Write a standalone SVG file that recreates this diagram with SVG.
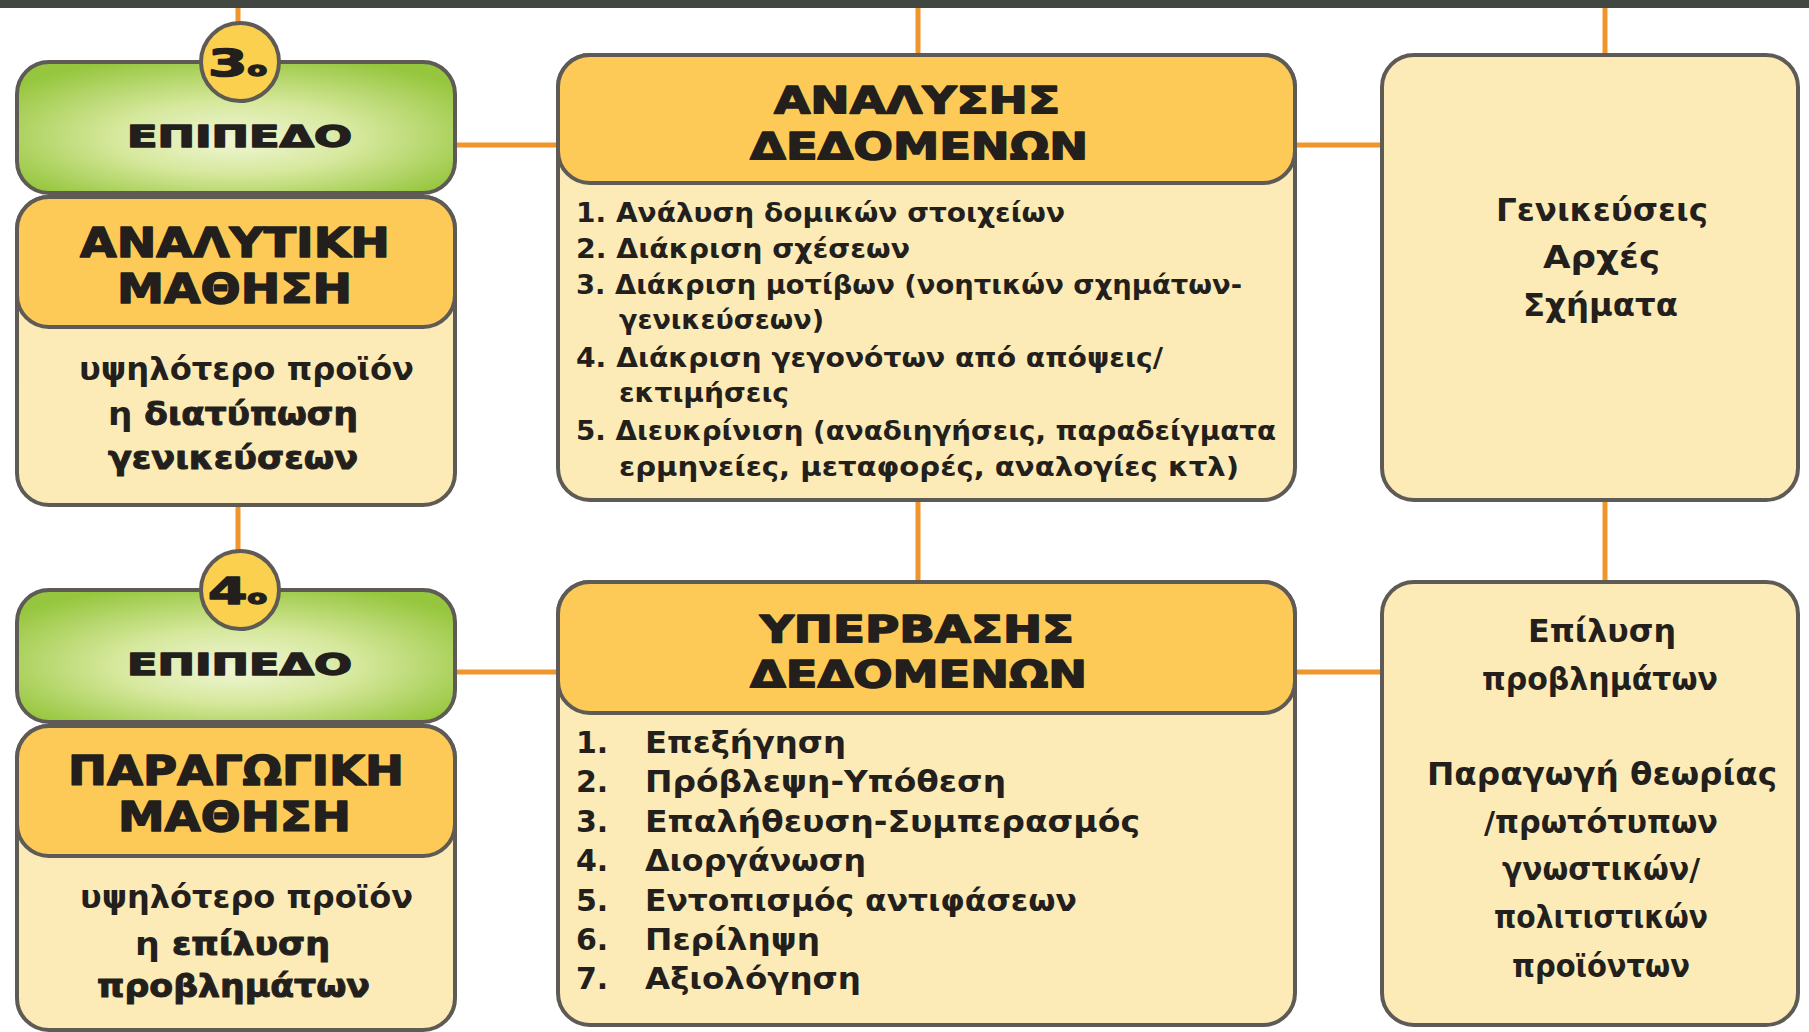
<svg xmlns="http://www.w3.org/2000/svg" width="1809" height="1032" viewBox="0 0 1809 1032">
<style>
.box{stroke:#5e5b56;stroke-width:4}
.light{fill:#fcebb7}
.hdr{fill:#fdca57}
.grn{fill:url(#g)}
.con{stroke:#f0952b;stroke-width:5;fill:none}
text{font-family:"DejaVu Sans","Noto Sans",sans-serif;fill:#231f1c;font-weight:bold}
.h{stroke:#231f1c;stroke-width:1.5;stroke-linejoin:round}
.bb{stroke:#231f1c;stroke-width:1;stroke-linejoin:round}
</style>
<defs>
<radialGradient id="g" cx="50%" cy="55%" r="62%" fx="50%" fy="60%">
<stop offset="0" stop-color="#f0f6d6"/>
<stop offset="0.45" stop-color="#d6e89c"/>
<stop offset="1" stop-color="#96c63e"/>
</radialGradient>
</defs>
<rect x="0" y="0" width="1809" height="1032" fill="#ffffff"/>
<rect x="0" y="0" width="1809" height="8" fill="#424841"/>
<g id="connectors">
<line class="con" x1="238" y1="8" x2="238" y2="30"/>
<line class="con" x1="918" y1="8" x2="918" y2="60"/>
<line class="con" x1="1605" y1="8" x2="1605" y2="60"/>
<line class="con" x1="450" y1="145" x2="562" y2="145"/>
<line class="con" x1="1290" y1="145" x2="1386" y2="145"/>
<line class="con" x1="238" y1="500" x2="238" y2="560"/>
<line class="con" x1="918" y1="495" x2="918" y2="587"/>
<line class="con" x1="1605" y1="495" x2="1605" y2="587"/>
<line class="con" x1="450" y1="672" x2="562" y2="672"/>
<line class="con" x1="1290" y1="672" x2="1386" y2="672"/>
</g>
<g id="level3">
<rect class="box grn" x="17" y="62" width="438" height="131" rx="32"/>
<circle class="box" cx="240" cy="62" r="39" fill="#fcd04f"/>
<text class="h" x="208" y="76" font-size="38" textLength="59" lengthAdjust="spacingAndGlyphs">3<tspan font-size="19">ο</tspan></text>
<text class="h" x="127" y="147" font-size="30" textLength="225" lengthAdjust="spacingAndGlyphs">ΕΠΙΠΕΔΟ</text>
</g>
<g id="analytical">
<rect class="box light" x="17" y="197" width="438" height="308" rx="32"/>
<rect class="box hdr" x="17" y="197" width="438" height="130" rx="32"/>
<text class="h" x="80" y="257" font-size="41" textLength="310" lengthAdjust="spacingAndGlyphs">ΑΝΑΛΥΤΙΚΗ</text>
<text class="h" x="117" y="303" font-size="41" textLength="235" lengthAdjust="spacingAndGlyphs">ΜΑΘΗΣΗ</text>
<text x="79" y="380" font-size="32" textLength="335" lengthAdjust="spacingAndGlyphs">υψηλότερο προϊόν</text>
<text x="108" y="425" font-size="32" textLength="250" lengthAdjust="spacingAndGlyphs">η <tspan class="bb">διατύπωση</tspan></text>
<text class="bb" x="108" y="469" font-size="32" textLength="250" lengthAdjust="spacingAndGlyphs">γενικεύσεων</text>
</g>
<g id="analysis">
<rect class="box light" x="558" y="55" width="737" height="445" rx="32"/>
<rect class="box hdr" x="558" y="55" width="737" height="128" rx="32"/>
<text class="h" x="774" y="113" font-size="37" textLength="286" lengthAdjust="spacingAndGlyphs">ΑΝΑΛΥΣΗΣ</text>
<text class="h" x="750" y="159" font-size="37" textLength="338" lengthAdjust="spacingAndGlyphs">ΔΕΔΟΜΕΝΩΝ</text>
<g font-size="27">
<text x="576" y="222" textLength="489" lengthAdjust="spacingAndGlyphs">1. Ανάλυση δομικών στοιχείων</text>
<text x="576" y="258" textLength="334" lengthAdjust="spacingAndGlyphs">2. Διάκριση σχέσεων</text>
<text x="576" y="294" textLength="666" lengthAdjust="spacingAndGlyphs">3. Διάκριση μοτίβων (νοητικών σχημάτων-</text>
<text x="619" y="329" textLength="205" lengthAdjust="spacingAndGlyphs">γενικεύσεων)</text>
<text x="576" y="367" textLength="587" lengthAdjust="spacingAndGlyphs">4. Διάκριση γεγονότων από απόψεις/</text>
<text x="619" y="402" textLength="170" lengthAdjust="spacingAndGlyphs">εκτιμήσεις</text>
<text x="576" y="440" textLength="700" lengthAdjust="spacingAndGlyphs">5. Διευκρίνιση (αναδιηγήσεις, παραδείγματα</text>
<text x="619" y="476" textLength="620" lengthAdjust="spacingAndGlyphs">ερμηνείες, μεταφορές, αναλογίες κτλ)</text>
</g>
</g>
<g id="generalizations">
<rect class="box light" x="1382" y="55" width="416" height="445" rx="32"/>
<text x="1496" y="221" font-size="31" textLength="212" lengthAdjust="spacingAndGlyphs">Γενικεύσεις</text>
<text x="1543" y="268" font-size="31" textLength="117" lengthAdjust="spacingAndGlyphs">Αρχές</text>
<text x="1523" y="316" font-size="31" textLength="155" lengthAdjust="spacingAndGlyphs">Σχήματα</text>
</g>
<g id="level4">
<rect class="box grn" x="17" y="590" width="438" height="132" rx="32"/>
<circle class="box" cx="240" cy="590" r="39" fill="#fcd04f"/>
<text class="h" x="208" y="604" font-size="38" textLength="59" lengthAdjust="spacingAndGlyphs">4<tspan font-size="19">ο</tspan></text>
<text class="h" x="127" y="675" font-size="30" textLength="225" lengthAdjust="spacingAndGlyphs">ΕΠΙΠΕΔΟ</text>
</g>
<g id="productive">
<rect class="box light" x="17" y="726" width="438" height="304" rx="32"/>
<rect class="box hdr" x="17" y="726" width="438" height="130" rx="32"/>
<text class="h" x="68" y="785" font-size="41" textLength="336" lengthAdjust="spacingAndGlyphs">ΠΑΡΑΓΩΓΙΚΗ</text>
<text class="h" x="118" y="831" font-size="41" textLength="233" lengthAdjust="spacingAndGlyphs">ΜΑΘΗΣΗ</text>
<text x="80" y="908" font-size="32" textLength="333" lengthAdjust="spacingAndGlyphs">υψηλότερο προϊόν</text>
<text x="135" y="955" font-size="32" textLength="195" lengthAdjust="spacingAndGlyphs">η <tspan class="bb">επίλυση</tspan></text>
<text class="bb" x="97" y="997" font-size="32" textLength="273" lengthAdjust="spacingAndGlyphs">προβλημάτων</text>
</g>
<g id="beyond">
<rect class="box light" x="558" y="582" width="737" height="443" rx="32"/>
<rect class="box hdr" x="558" y="582" width="737" height="131" rx="32"/>
<text class="h" x="760" y="642" font-size="37" textLength="314" lengthAdjust="spacingAndGlyphs">ΥΠΕΡΒΑΣΗΣ</text>
<text class="h" x="750" y="687" font-size="37" textLength="337" lengthAdjust="spacingAndGlyphs">ΔΕΔΟΜΕΝΩΝ</text>
<g font-size="30">
<text x="576" y="753">1.</text>
<text x="645" y="753" textLength="201" lengthAdjust="spacingAndGlyphs">Επεξήγηση</text>
<text x="576" y="792">2.</text>
<text x="645" y="792" textLength="361" lengthAdjust="spacingAndGlyphs">Πρόβλεψη-Υπόθεση</text>
<text x="576" y="832">3.</text>
<text x="645" y="832" textLength="495" lengthAdjust="spacingAndGlyphs">Επαλήθευση-Συμπερασμός</text>
<text x="576" y="871">4.</text>
<text x="645" y="871" textLength="221" lengthAdjust="spacingAndGlyphs">Διοργάνωση</text>
<text x="576" y="911">5.</text>
<text x="645" y="911" textLength="432" lengthAdjust="spacingAndGlyphs">Εντοπισμός αντιφάσεων</text>
<text x="576" y="950">6.</text>
<text x="645" y="950" textLength="175" lengthAdjust="spacingAndGlyphs">Περίληψη</text>
<text x="576" y="989">7.</text>
<text x="645" y="989" textLength="216" lengthAdjust="spacingAndGlyphs">Αξιολόγηση</text>
</g>
</g>
<g id="problem-solving">
<rect class="box light" x="1382" y="582" width="416" height="443" rx="32"/>
<text x="1528" y="642" font-size="31" textLength="148" lengthAdjust="spacingAndGlyphs">Επίλυση</text>
<text x="1482" y="690" font-size="31" textLength="236" lengthAdjust="spacingAndGlyphs">προβλημάτων</text>
<text x="1427" y="785" font-size="31" textLength="350" lengthAdjust="spacingAndGlyphs">Παραγωγή θεωρίας</text>
<text x="1484" y="833" font-size="31" textLength="234" lengthAdjust="spacingAndGlyphs">/πρωτότυπων</text>
<text x="1502" y="880" font-size="31" textLength="198" lengthAdjust="spacingAndGlyphs">γνωστικών/</text>
<text x="1494" y="928" font-size="31" textLength="214" lengthAdjust="spacingAndGlyphs">πολιτιστικών</text>
<text x="1512" y="977" font-size="31" textLength="178" lengthAdjust="spacingAndGlyphs">προϊόντων</text>
</g>
</svg>
